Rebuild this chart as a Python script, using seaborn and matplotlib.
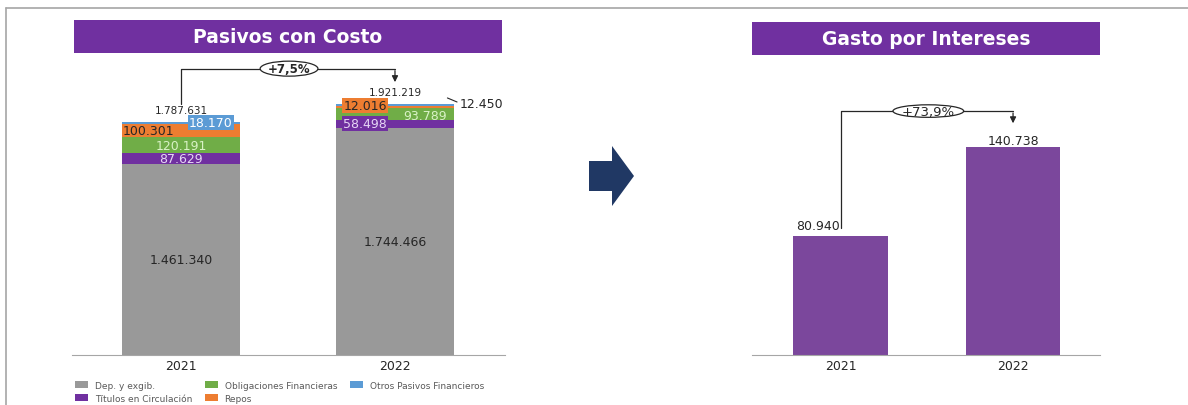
import matplotlib
matplotlib.use('Agg')
import matplotlib.pyplot as plt
from matplotlib.patches import Rectangle, Polygon, Ellipse
from matplotlib.lines import Line2D
import seaborn as sns
import pandas as pd
import numpy as np

# data
years = ['2021', '2022']
dep_exig = [1461340, 1744466]
titulos = [87629, 58498]
obligaciones = [120191, 93789]
repos = [100301, 12016]
otros = [18170, 12450]
totales = [1787631, 1921219]
gasto_intereses = [80940, 140738]
crec_pasivos = '+7,5%'
crec_gasto = '+73,9%'

series = [
    ('Dep. y exgib.', dep_exig, '#999999'),
    ('Títulos en Circulación', titulos, '#7030A0'),
    ('Obligaciones Financieras', obligaciones, '#70AD47'),
    ('Repos', repos, '#ED7D31'),
    ('Otros Pasivos Financieros', otros, '#5B9BD5'),
]

W, H = 1188, 406
sns.set_style('white')
plt.rcParams['font.family'] = ['DejaVu Sans']

fig = plt.figure(figsize=(W / 100, H / 100), dpi=100)


def fx(px):
    return px / W


def fy(py):
    return 1 - py / H


def fmt(v):
    return f'{v:,}'.replace(',', '.')


# frame lines
fig.add_artist(Line2D([fx(6), 1], [fy(9), fy(9)], color='#A6A6A6', lw=1.2))
fig.add_artist(Line2D([fx(6), fx(6)], [fy(9), 0], color='#A6A6A6', lw=1.2))

# banners
for x0, x1, y0, y1, txt in [(74, 502, 21, 54, 'Pasivos con Costo'),
                            (752, 1100, 23, 56, 'Gasto por Intereses')]:
    fig.add_artist(Rectangle((fx(x0), fy(y1)), fx(x1) - fx(x0), fy(y0) - fy(y1),
                             transform=fig.transFigure, fc='#7030A0', ec='none'))
    fig.text(fx((x0 + x1) / 2), fy((y0 + y1) / 2), txt, color='white',
             fontsize=13.5, fontweight='bold', ha='center', va='center')

# navy arrow between charts
arrow_pts = [(589, 162), (612, 162), (612, 147), (634, 177), (612, 207), (612, 192), (589, 192)]
fig.add_artist(Polygon([(fx(a), fy(b)) for a, b in arrow_pts], closed=True,
                       transform=fig.transFigure, fc='#203864', ec='none'))

# ---- left chart: stacked bars
axL = fig.add_axes([fx(72), fy(356), fx(505) - fx(72), fy(60) - fy(356)])
bottom = np.zeros(2)
for name, vals, col in series:
    df = pd.DataFrame({'year': years, 'value': vals})
    sns.barplot(data=df, x='year', y='value', color=col, width=0.55,
                bottom=bottom, ax=axL, saturation=1, linewidth=0, edgecolor='none')
    bottom = bottom + np.array(vals)
axL.set_xlim(-0.509, 1.514)
axL.set_ylim(0, 2270000)

vals_arr = np.array([s[1] for s in series])
cum = np.cumsum(vals_arr, axis=0)
bases = np.vstack([np.zeros(2), cum[:-1]])
mid = bases + vals_arr / 2

dark = '#262626'
lab = dict(fontsize=9, ha='center', va='center')
box = lambda c: dict(boxstyle='square,pad=0.08', fc=c, ec='none')
# 2021
axL.text(0, mid[0][0], fmt(dep_exig[0]), color=dark, **lab)
axL.text(0, mid[1][0], fmt(titulos[0]), color='#E6D6F5', **lab)
axL.text(0, mid[2][0], fmt(obligaciones[0]), color='#D9F2C6', **lab)
axL.text(-0.15, mid[3][0], fmt(repos[0]), color=dark, **lab)
axL.text(0.14, mid[4][0] + 5000, fmt(otros[0]), color='white', bbox=box('#5B9BD5'), **lab)
axL.text(0, totales[0] + 95000, fmt(totales[0]), color=dark, fontsize=7.5,
         ha='center', va='center')
# 2022
axL.text(1, mid[0][1], fmt(dep_exig[1]), color=dark, **lab)
axL.text(0.86, mid[1][1], fmt(titulos[1]), color='#E6D6F5', bbox=box('#7030A0'), **lab)
axL.text(1.14, mid[2][1] - 15000, fmt(obligaciones[1]), color='#D9F2C6', **lab)
axL.text(0.86, totales[1] - 4000, fmt(repos[1]), color=dark, bbox=box('#ED7D31'), **lab)
axL.text(1.30, totales[1] + 8000, fmt(otros[1]), color=dark, fontsize=9,
         ha='left', va='center')
axL.plot([1.245, 1.29], [totales[1] + 50000, totales[1] + 19000], color=dark, lw=0.8)
axL.text(1, totales[1] + 96000, fmt(totales[1]), color=dark, fontsize=7.5,
         ha='center', va='center')

# growth connector left
yh = totales[1] * 1.143
axL.plot([0, 0, 1.0], [totales[0] + 137000, yh, yh], color=dark, lw=0.9)
axL.annotate('', xy=(1.0, totales[1] + 150000), xytext=(1.0, yh + 6000),
             arrowprops=dict(arrowstyle='-|>', color=dark, lw=0.9, mutation_scale=9))
axL.add_patch(Ellipse((0.505, yh), 0.27, 115000, fc='white', ec=dark, lw=0.9, zorder=3))
axL.text(0.505, yh, crec_pasivos, fontsize=8.5, fontweight='bold', ha='center', va='center',
         color=dark, zorder=4)

# ---- right chart: interest expense
axR = fig.add_axes([fx(752), fy(356), fx(1100) - fx(752), fy(60) - fy(356)])
dfg = pd.DataFrame({'year': years, 'value': gasto_intereses})
sns.barplot(data=dfg, x='year', y='value', color='#7B479C', width=0.55,
            ax=axR, saturation=1, linewidth=0, edgecolor='none')
axR.set_xlim(-0.513, 1.504)
axR.set_ylim(0, 200700)
axR.text(-0.13, gasto_intereses[0] + 7000, fmt(gasto_intereses[0]), color=dark, **lab)
axR.text(1, gasto_intereses[1] + 5000, fmt(gasto_intereses[1]), color=dark, **lab)

yh2 = 165400
axR.plot([0, 0, 1.0], [gasto_intereses[0] + 5000, yh2, yh2], color=dark, lw=0.9)
axR.annotate('', xy=(1.0, gasto_intereses[1] + 14500), xytext=(1.0, yh2 + 600),
             arrowprops=dict(arrowstyle='-|>', color=dark, lw=0.9, mutation_scale=9))
axR.add_patch(Ellipse((0.509, yh2), 0.41, 8500, fc='white', ec=dark, lw=0.9, zorder=3))
axR.text(0.509, yh2, crec_gasto, fontsize=9.5, ha='center', va='center',
         color=dark, zorder=4)

for ax in (axL, axR):
    sns.despine(ax=ax, left=True)
    ax.spines['bottom'].set_color('#A6A6A6')
    ax.set_yticks([])
    ax.set_xlabel('')
    ax.set_ylabel('')
    ax.tick_params(axis='x', length=0, labelsize=9, colors=dark, pad=3)
    ax.patch.set_alpha(0)

# legend
handles = [Rectangle((0, 0), 1, 1, fc=c, ec='none') for _, _, c in series]
labels = [n for n, _, _ in series]
fig.legend(handles, labels, ncol=3, loc='upper left',
           bbox_to_anchor=(fx(73), fy(380)), frameon=False, fontsize=6.5,
           labelcolor='#595959', handlelength=1.5, handleheight=0.8,
           columnspacing=1.4, labelspacing=0.45, handletextpad=0.7, borderpad=0,
           borderaxespad=0.2)

fig.savefig('out.png', dpi=100)
